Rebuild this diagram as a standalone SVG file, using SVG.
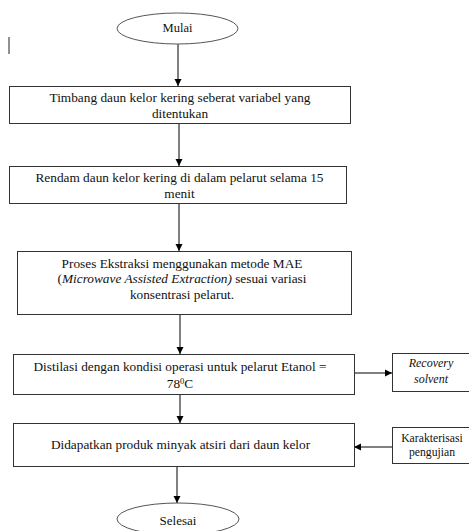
<svg xmlns="http://www.w3.org/2000/svg" width="469" height="531" viewBox="0 0 469 531">
<defs>
<marker id="ah" markerWidth="8" markerHeight="8" refX="7" refY="4" orient="auto" markerUnits="userSpaceOnUse">
<path d="M0,0.5 L7,4 L0,7.5 Z" fill="#000"/>
</marker>
<style>
.box{fill:#fff;stroke:#333;stroke-width:1}
.ell{fill:#fff;stroke:#555;stroke-width:1}
text{font-family:'Liberation Serif',serif;font-size:13.3px;fill:#111;text-anchor:middle}
.i{font-style:italic}
.c{stroke:#000;stroke-width:1;fill:none;marker-end:url(#ah)}
</style>
</defs>
<rect width="469" height="531" fill="#fff"/>
<line x1="9" y1="37" x2="9" y2="54" stroke="#222" stroke-width="1"/>
<g id="connectors">
<line class="c" x1="178" y1="44" x2="178" y2="86"/>
<line class="c" x1="179" y1="123" x2="179" y2="166"/>
<line class="c" x1="179" y1="203" x2="179" y2="251"/>
<line class="c" x1="180" y1="314" x2="180" y2="354"/>
<line class="c" x1="180" y1="394" x2="180" y2="423"/>
<line class="c" x1="177" y1="467" x2="177" y2="503"/>
<line class="c" x1="354" y1="373" x2="392" y2="373"/>
<line class="c" x1="392" y1="447" x2="354" y2="447"/>
</g>
<g id="mulai" font-family="Liberation Serif, serif">
<ellipse class="ell" cx="177.5" cy="28.5" rx="60.5" ry="15.5"/>
<text x="177.5" y="32" style="font-size:12.5px">Mulai</text>
</g>
<g id="timbang" font-family="Liberation Serif, serif">
<rect class="box" x="9.5" y="86.5" width="341" height="37"/>
<text x="180" y="102">Timbang daun kelor kering seberat variabel yang</text>
<text x="180" y="117.5">ditentukan</text>
</g>
<g id="rendam" font-family="Liberation Serif, serif">
<rect class="box" x="9.5" y="166.5" width="337" height="37"/>
<text x="179.5" y="182">Rendam daun kelor kering di dalam pelarut selama 15</text>
<text x="179.5" y="197.5">menit</text>
</g>
<g id="ekstraksi" font-family="Liberation Serif, serif">
<rect class="box" x="17.5" y="251.5" width="334" height="63"/>
<text x="182" y="268">Proses Ekstraksi menggunakan metode MAE</text>
<text x="182" y="283">(<tspan class="i">Microwave Assisted Extraction)</tspan> sesuai variasi</text>
<text x="182" y="298.5">konsentrasi pelarut.</text>
</g>
<g id="distilasi" font-family="Liberation Serif, serif">
<rect class="box" x="13.5" y="354.5" width="341" height="40"/>
<text x="180" y="371">Distilasi dengan kondisi operasi untuk pelarut Etanol =</text>
<text x="180" y="388">78<tspan style="font-size:8.5px" dy="-4.5">0</tspan><tspan dy="4.5">C</tspan></text>
</g>
<g id="recovery" font-family="Liberation Serif, serif">
<rect class="box" x="392.5" y="353.5" width="80" height="38"/>
<text class="i" x="431" y="367" style="font-size:12px">Recovery</text>
<text class="i" x="431" y="383" style="font-size:12px">solvent</text>
</g>
<g id="produk" font-family="Liberation Serif, serif">
<rect class="box" x="13.5" y="423.5" width="341" height="43"/>
<text x="180.5" y="448.5">Didapatkan produk minyak atsiri dari daun kelor</text>
</g>
<g id="karakterisasi" font-family="Liberation Serif, serif">
<rect class="box" x="392.5" y="427.5" width="80" height="36"/>
<text x="432" y="441.5" style="font-size:11.7px">Karakterisasi</text>
<text x="432" y="456" style="font-size:11.7px">pengujian</text>
</g>
<g id="selesai" font-family="Liberation Serif, serif">
<ellipse class="ell" cx="178" cy="519" rx="61" ry="16"/>
<text x="178" y="524.5" style="font-size:13px">Selesai</text>
</g>
</svg>
